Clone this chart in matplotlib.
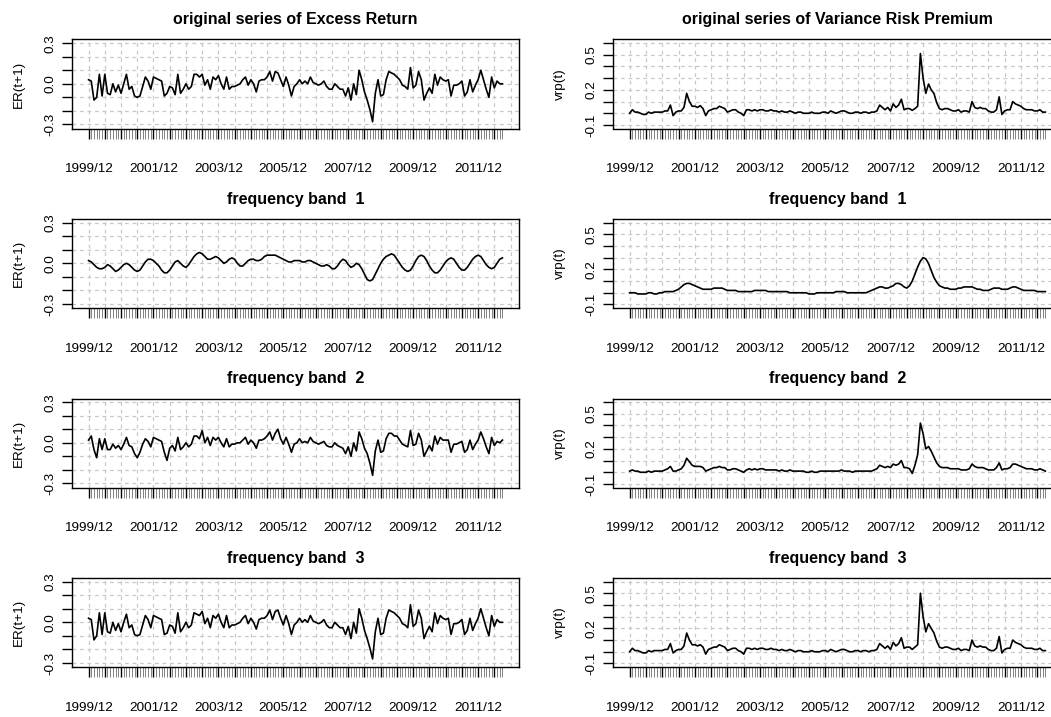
import matplotlib
matplotlib.use("Agg")
import matplotlib.pyplot as plt
import numpy as np

plt.rcParams['font.family'] = ['Liberation Sans', 'DejaVu Sans']

# monthly observations, 1999/12 .. 2012/09
n_months = 154
tick_labels = ['1999/12', '2001/12', '2003/12', '2005/12', '2007/12', '2009/12', '2011/12']

er_orig = [0.03, 0.02, -0.12, -0.10, 0.07, -0.09, 0.07, -0.07, -0.08, 0.00,
           -0.06, -0.01, -0.07, 0.00, 0.07, -0.04, -0.02, -0.09, -0.10, -0.09,
           -0.02, 0.05, 0.02, -0.04, 0.05, 0.04, 0.03, 0.02, -0.09, -0.07,
           -0.02, -0.03, -0.08, 0.07, -0.07, -0.04, 0.00, -0.04, -0.02, 0.07,
           0.07, 0.05, 0.07, -0.01, 0.03, -0.04, 0.05, 0.03, 0.06, 0.00,
           -0.04, 0.05, -0.04, -0.02, -0.02, -0.01, 0.00, 0.03, 0.05, -0.01,
           0.03, 0.00, -0.06, 0.02, 0.03, 0.03, 0.05, 0.09, 0.02, 0.09,
           0.08, 0.03, -0.02, 0.05, -0.01, -0.09, -0.02, 0.00, 0.03, 0.00,
           0.02, 0.00, 0.05, 0.01, 0.00, -0.01, 0.00, 0.02, -0.02, -0.04,
           -0.04, 0.00, -0.02, -0.04, -0.04, -0.09, -0.03, -0.12, 0.00, -0.08,
           0.10, 0.03, -0.06, -0.12, -0.19, -0.28, -0.07, 0.03, -0.09, -0.08,
           0.03, 0.09, 0.08, 0.07, 0.05, 0.03, -0.01, -0.02, -0.04, 0.12,
           -0.03, -0.01, 0.09, 0.03, -0.12, -0.07, -0.03, -0.07, 0.07, -0.01,
           0.05, 0.03, 0.02, 0.03, -0.09, -0.01, -0.01, 0.00, 0.02, -0.09,
           -0.06, 0.03, -0.06, -0.01, 0.03, 0.10, 0.03, -0.04, -0.10, 0.05,
           -0.03, 0.02, 0.00, 0.00]

er_band1 = [0.02, 0.01, -0.01, -0.03, -0.04, -0.04, -0.03, -0.01, -0.02, -0.04,
            -0.06, -0.05, -0.03, -0.01, 0.00, -0.01, -0.03, -0.05, -0.06, -0.05,
            -0.02, 0.01, 0.03, 0.03, 0.02, 0.00, -0.02, -0.05, -0.07, -0.07,
            -0.05, -0.02, 0.01, 0.02, 0.00, -0.02, -0.03, -0.01, 0.02, 0.05,
            0.07, 0.08, 0.07, 0.05, 0.03, 0.03, 0.04, 0.05, 0.04, 0.02,
            0.00, 0.01, 0.03, 0.04, 0.03, 0.00, -0.02, -0.02, 0.00, 0.02,
            0.03, 0.03, 0.02, 0.02, 0.03, 0.05, 0.06, 0.06, 0.06, 0.06,
            0.05, 0.04, 0.03, 0.02, 0.01, 0.01, 0.02, 0.02, 0.02, 0.01,
            0.01, 0.02, 0.02, 0.01, 0.00, -0.01, -0.02, -0.02, -0.01, -0.02,
            -0.04, -0.04, -0.02, 0.01, 0.03, 0.02, -0.01, -0.03, -0.02, 0.00,
            -0.01, -0.04, -0.08, -0.12, -0.13, -0.12, -0.08, -0.04, 0.00, 0.03,
            0.05, 0.06, 0.07, 0.06, 0.03, 0.00, -0.03, -0.05, -0.06, -0.05,
            -0.02, 0.02, 0.05, 0.06, 0.05, 0.02, -0.02, -0.05, -0.07, -0.07,
            -0.05, -0.02, 0.01, 0.03, 0.04, 0.03, 0.00, -0.03, -0.05, -0.05,
            -0.03, 0.00, 0.03, 0.05, 0.06, 0.05, 0.02, -0.01, -0.03, -0.04,
            -0.03, 0.00, 0.03, 0.04]

er_band2 = [0.02, 0.05, -0.05, -0.11, 0.03, -0.05, 0.03, -0.05, -0.05, -0.01,
            -0.04, -0.02, -0.05, -0.01, 0.04, -0.02, -0.03, -0.08, -0.11, -0.07,
            -0.01, 0.03, 0.01, -0.03, 0.04, 0.03, 0.02, 0.01, -0.07, -0.13,
            -0.04, -0.02, -0.06, 0.04, -0.05, -0.03, 0.00, -0.03, -0.01, 0.05,
            0.05, 0.03, 0.09, 0.00, 0.04, -0.02, 0.04, 0.02, 0.04, 0.00,
            -0.03, 0.03, -0.03, -0.01, -0.01, 0.00, 0.00, 0.02, 0.04, -0.01,
            0.02, 0.00, -0.04, 0.02, 0.02, 0.03, 0.05, 0.08, 0.02, 0.07,
            0.10, 0.03, -0.01, 0.04, -0.01, -0.07, -0.01, 0.00, 0.03, 0.00,
            0.01, 0.00, 0.04, 0.01, 0.00, -0.01, 0.00, 0.01, -0.02, -0.03,
            -0.03, 0.00, -0.02, -0.03, -0.04, -0.08, -0.03, -0.10, 0.00, -0.06,
            0.08, 0.03, -0.04, -0.08, -0.15, -0.24, -0.06, 0.02, -0.07, -0.06,
            0.03, 0.07, 0.07, 0.05, 0.05, 0.02, -0.01, -0.02, -0.03, 0.09,
            -0.02, -0.01, 0.07, 0.02, -0.10, -0.06, -0.02, -0.06, 0.05, -0.01,
            0.04, 0.02, 0.02, 0.02, -0.07, -0.01, -0.01, 0.00, 0.01, -0.07,
            -0.05, 0.02, -0.05, -0.01, 0.02, 0.08, 0.03, -0.03, -0.08, 0.04,
            -0.02, 0.01, 0.00, 0.02]

er_band3 = [0.03, 0.02, -0.13, -0.10, 0.07, -0.09, 0.07, -0.07, -0.08, 0.00,
            -0.06, -0.01, -0.07, 0.00, 0.06, -0.04, -0.02, -0.09, -0.10, -0.09,
            -0.02, 0.05, 0.02, -0.04, 0.05, 0.04, 0.03, 0.02, -0.09, -0.08,
            -0.02, -0.03, -0.08, 0.07, -0.07, -0.04, 0.00, -0.04, -0.02, 0.07,
            0.06, 0.05, 0.08, -0.01, 0.03, -0.04, 0.05, 0.03, 0.06, 0.00,
            -0.04, 0.05, -0.04, -0.02, -0.02, -0.01, 0.00, 0.03, 0.05, -0.01,
            0.03, 0.00, -0.05, 0.02, 0.03, 0.03, 0.05, 0.09, 0.02, 0.08,
            0.09, 0.03, -0.02, 0.05, -0.01, -0.09, -0.02, 0.00, 0.03, 0.00,
            0.02, 0.00, 0.05, 0.01, 0.00, -0.01, 0.00, 0.02, -0.02, -0.04,
            -0.04, 0.00, -0.02, -0.04, -0.04, -0.09, -0.03, -0.12, 0.00, -0.08,
            0.10, 0.03, -0.06, -0.12, -0.19, -0.27, -0.07, 0.03, -0.09, -0.08,
            0.03, 0.09, 0.08, 0.07, 0.05, 0.03, -0.01, -0.02, -0.04, 0.13,
            -0.03, -0.01, 0.09, 0.03, -0.12, -0.07, -0.03, -0.07, 0.07, -0.01,
            0.05, 0.03, 0.02, 0.03, -0.09, -0.01, -0.01, 0.00, 0.02, -0.09,
            -0.06, 0.03, -0.06, -0.01, 0.03, 0.10, 0.03, -0.04, -0.10, 0.05,
            -0.03, 0.02, 0.00, 0.00]

vrp_orig = [0.00, 0.03, 0.01, 0.01, 0.00, -0.01, -0.01, 0.01, 0.00, 0.01,
            0.01, 0.01, 0.01, 0.02, 0.02, 0.07, -0.02, 0.01, 0.02, 0.02,
            0.05, 0.17, 0.10, 0.06, 0.06, 0.05, 0.065, 0.04, -0.02, 0.02,
            0.03, 0.04, 0.04, 0.06, 0.05, 0.04, 0.01, 0.02, 0.03, 0.03,
            0.01, 0.00, -0.02, 0.03, 0.03, 0.02, 0.03, 0.02, 0.03, 0.03,
            0.02, 0.02, 0.03, 0.02, 0.02, 0.01, 0.02, 0.01, 0.01, 0.02,
            0.01, 0.00, 0.01, 0.01, 0.00, 0.00, 0.00, 0.01, 0.00, 0.00,
            0.00, 0.01, 0.01, 0.00, 0.02, 0.01, 0.00, 0.01, 0.02, 0.02,
            0.01, 0.00, 0.00, 0.01, 0.01, 0.00, 0.01, 0.01, 0.00, 0.01,
            0.01, 0.02, 0.07, 0.05, 0.03, 0.05, 0.02, 0.08, 0.05, 0.07,
            0.12, 0.03, 0.04, 0.04, 0.025, 0.04, 0.06, 0.51, 0.30, 0.17,
            0.25, 0.20, 0.17, 0.09, 0.04, 0.03, 0.04, 0.04, 0.03, 0.02,
            0.02, 0.03, 0.01, 0.02, 0.02, 0.01, 0.10, 0.05, 0.04, 0.05,
            0.04, 0.04, 0.02, 0.01, 0.01, 0.03, 0.14, -0.01, 0.02, 0.03,
            0.03, 0.10, 0.08, 0.07, 0.06, 0.04, 0.03, 0.03, 0.03, 0.02,
            0.02, 0.03, 0.01, 0.01]

vrp_band1 = [0.00, 0.00, 0.00, -0.01, -0.01, -0.01, -0.01, 0.00, 0.00, -0.01,
             -0.01, 0.00, 0.00, 0.01, 0.01, 0.01, 0.01, 0.02, 0.03, 0.05,
             0.07, 0.08, 0.08, 0.07, 0.06, 0.05, 0.04, 0.03, 0.03, 0.03,
             0.03, 0.04, 0.04, 0.04, 0.04, 0.03, 0.02, 0.02, 0.02, 0.02,
             0.01, 0.01, 0.01, 0.01, 0.01, 0.01, 0.02, 0.02, 0.02, 0.02,
             0.02, 0.01, 0.01, 0.01, 0.01, 0.01, 0.01, 0.01, 0.01, 0.00,
             0.00, 0.00, 0.00, 0.00, 0.00, 0.00, -0.01, -0.01, -0.01, 0.00,
             0.00, 0.00, 0.00, 0.00, 0.00, 0.00, 0.01, 0.01, 0.01, 0.01,
             0.00, 0.00, 0.00, 0.00, 0.00, 0.00, 0.00, 0.00, 0.01, 0.02,
             0.03, 0.04, 0.05, 0.05, 0.04, 0.04, 0.05, 0.06, 0.08, 0.08,
             0.07, 0.05, 0.04, 0.06, 0.10, 0.16, 0.22, 0.27, 0.30, 0.29,
             0.25, 0.19, 0.13, 0.09, 0.06, 0.05, 0.04, 0.04, 0.03, 0.03,
             0.03, 0.04, 0.04, 0.05, 0.05, 0.05, 0.05, 0.04, 0.03, 0.03,
             0.02, 0.02, 0.02, 0.03, 0.04, 0.04, 0.04, 0.03, 0.03, 0.03,
             0.04, 0.05, 0.05, 0.04, 0.03, 0.02, 0.02, 0.02, 0.02, 0.02,
             0.01, 0.01, 0.01, 0.01]

vrp_band2 = [0.01, 0.02, 0.01, 0.01, 0.00, 0.00, 0.00, 0.01, 0.00, 0.01,
             0.01, 0.01, 0.01, 0.02, 0.03, 0.05, 0.01, 0.01, 0.02, 0.03,
             0.06, 0.12, 0.09, 0.06, 0.05, 0.05, 0.05, 0.04, 0.01, 0.02,
             0.03, 0.04, 0.04, 0.05, 0.04, 0.04, 0.02, 0.02, 0.03, 0.03,
             0.02, 0.01, 0.00, 0.02, 0.03, 0.02, 0.03, 0.02, 0.03, 0.03,
             0.02, 0.02, 0.02, 0.02, 0.02, 0.01, 0.02, 0.01, 0.01, 0.02,
             0.01, 0.01, 0.01, 0.01, 0.01, 0.00, 0.00, 0.01, 0.00, 0.00,
             0.01, 0.01, 0.01, 0.01, 0.01, 0.01, 0.01, 0.01, 0.02, 0.01,
             0.01, 0.01, 0.00, 0.01, 0.01, 0.01, 0.01, 0.01, 0.01, 0.01,
             0.02, 0.03, 0.06, 0.05, 0.04, 0.05, 0.04, 0.07, 0.06, 0.07,
             0.10, 0.04, 0.04, 0.03, -0.01, 0.06, 0.15, 0.42, 0.33, 0.20,
             0.22, 0.18, 0.13, 0.08, 0.05, 0.04, 0.04, 0.04, 0.03, 0.03,
             0.03, 0.03, 0.02, 0.02, 0.02, 0.03, 0.07, 0.05, 0.04, 0.04,
             0.04, 0.03, 0.02, 0.02, 0.02, 0.04, 0.08, 0.02, 0.03, 0.03,
             0.04, 0.07, 0.07, 0.06, 0.05, 0.04, 0.03, 0.03, 0.03, 0.02,
             0.02, 0.03, 0.02, 0.01]

vrp_band3 = [0.00, 0.03, 0.01, 0.01, 0.00, -0.01, -0.01, 0.01, 0.00, 0.01,
             0.01, 0.01, 0.01, 0.02, 0.02, 0.07, -0.01, 0.01, 0.02, 0.02,
             0.05, 0.16, 0.10, 0.06, 0.06, 0.05, 0.06, 0.04, -0.02, 0.02,
             0.03, 0.04, 0.04, 0.06, 0.05, 0.04, 0.01, 0.02, 0.03, 0.03,
             0.01, 0.00, -0.02, 0.03, 0.03, 0.02, 0.03, 0.02, 0.03, 0.03,
             0.02, 0.02, 0.03, 0.02, 0.02, 0.01, 0.02, 0.01, 0.01, 0.02,
             0.01, 0.00, 0.01, 0.01, 0.00, 0.00, 0.00, 0.01, 0.00, 0.00,
             0.00, 0.01, 0.01, 0.00, 0.02, 0.01, 0.00, 0.01, 0.02, 0.02,
             0.01, 0.00, 0.00, 0.01, 0.01, 0.00, 0.01, 0.01, 0.00, 0.01,
             0.01, 0.02, 0.07, 0.05, 0.03, 0.05, 0.02, 0.08, 0.05, 0.07,
             0.12, 0.03, 0.04, 0.04, 0.02, 0.04, 0.06, 0.50, 0.30, 0.17,
             0.24, 0.20, 0.16, 0.09, 0.04, 0.03, 0.04, 0.04, 0.03, 0.02,
             0.02, 0.03, 0.01, 0.02, 0.02, 0.01, 0.10, 0.05, 0.04, 0.05,
             0.04, 0.04, 0.02, 0.01, 0.01, 0.03, 0.13, -0.01, 0.02, 0.03,
             0.03, 0.10, 0.08, 0.07, 0.06, 0.04, 0.03, 0.03, 0.03, 0.02,
             0.02, 0.03, 0.01, 0.01]

titles_er = ['original series of Excess Return', 'frequency band  1',
             'frequency band  2', 'frequency band  3']
titles_vrp = ['original series of Variance Risk Premium', 'frequency band  1',
              'frequency band  2', 'frequency band  3']

W, H = 1051, 717
fig = plt.figure(figsize=(W / 100, H / 100), dpi=100)

grid_kw = dict(color='#c8c8c8', lw=0.9, ls=(0, (3, 3)), zorder=1)


def panel(left, top, width, series, title, ylabel, yticks, ylabs, ylim):
    ax = fig.add_axes([left / W, 1 - (top + 89) / H, width / W, 89 / H])
    x = np.arange(n_months)
    ax.set_xlim(-0.04 * (n_months - 1), (n_months - 1) * 1.04)
    ax.set_ylim(*ylim)
    for gx in range(0, 157, 6):
        ax.axvline(gx, **grid_kw)
    for gy in yticks:
        ax.axhline(gy, **grid_kw)
    ax.plot(x, series, color='black', lw=1.2, zorder=3)

    major = list(range(0, n_months, 6))
    ax.set_xticks(major)
    ax.set_xticks(range(n_months), minor=True)
    ax.set_xticklabels([tick_labels[i // 4] if i % 4 == 0 else '' for i in range(len(major))])
    ax.tick_params(axis='x', which='major', direction='out', length=7, width=1.0,
                   pad=18, labelsize=9.7, color='black')
    ax.tick_params(axis='x', which='minor', direction='out', length=7, width=0.6,
                   color='#6e6e6e')
    ax.set_yticks(yticks)
    ax.set_yticklabels(ylabs)
    ax.tick_params(axis='y', direction='out', length=7, width=1.0, pad=4,
                   labelsize=9.7, labelrotation=90)
    for lab in ax.get_yticklabels():
        lab.set_va('center')
    for sp in ax.spines.values():
        sp.set_linewidth(1.0)
    ax.set_title(title, fontsize=11.5, fontweight='bold', pad=11)
    ax.set_ylabel(ylabel, fontsize=9.7)
    ax.yaxis.set_label_coords(-47 / width, 0.5)
    return ax


er_series = [er_orig, er_band1, er_band2, er_band3]
vrp_series = [vrp_orig, vrp_band1, vrp_band2, vrp_band3]

er_ticks = [-0.3, -0.2, -0.1, 0.0, 0.1, 0.2, 0.3]
er_labs = ['-0.3', '', '', '0.0', '', '', '0.3']
vrp_ticks = [-0.1, 0.0, 0.1, 0.2, 0.3, 0.4, 0.5, 0.6]
vrp_labs = ['-0.1', '', '', '0.2', '', '', '0.5', '']

for i in range(4):
    top = 39.5 + 179.5 * i
    panel(72, top, 447, er_series[i], titles_er[i], 'ER(t+1)',
          er_ticks, er_labs, (-0.33, 0.327))
    panel(613, top, 449, vrp_series[i], titles_vrp[i], 'vrp(t)',
          vrp_ticks, vrp_labs, (-0.13, 0.63))

fig.savefig('out.png', dpi=100)
